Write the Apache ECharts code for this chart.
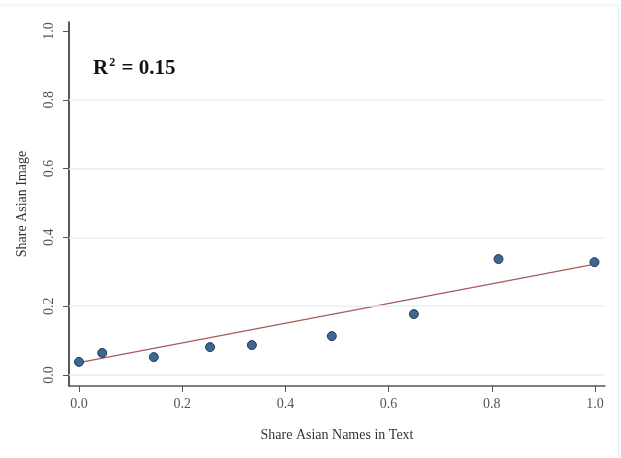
<!DOCTYPE html>
<html><head><meta charset="utf-8">
<script src="https://cdn.jsdelivr.net/npm/echarts@6/dist/echarts.min.js"></script>
<style>html,body{margin:0;padding:0;background:#fff}#c{width:621px;height:458px}</style>
</head><body><div id="c"></div>
<script>
const xVals = [0.0, 0.045, 0.145, 0.254, 0.335, 0.49, 0.649, 0.813, 0.999];
const yVals = [0.038, 0.064, 0.052, 0.081, 0.087, 0.113, 0.177, 0.337, 0.328];
const fitX = [0.0, 1.0];
const fitY = [0.036, 0.322];
const xTicks = [0, 0.2, 0.4, 0.6, 0.8, 1.0];
const yTicks = [0, 0.2, 0.4, 0.6, 0.8, 1.0];
const gridTicks = [0, 0.2, 0.4, 0.6, 0.8];
const xTitle = 'Share Asian Names in Text';
const yTitle = 'Share Asian Image';
const r2Label = '0.15';

const font = '"Liberation Serif", "DejaVu Serif", serif';
const chart = echarts.init(document.getElementById('c'), null, {renderer: 'canvas'});
chart.setOption({
  animation: false,
  backgroundColor: '#fff',
  grid: {left: 69, right: 16, top: 22, bottom: 72, containLabel: false},
  xAxis: {
    type: 'value', min: -0.0194, max: 1.0194,
    name: xTitle, nameLocation: 'middle', nameGap: 42,
    nameTextStyle: {fontFamily: font, fontSize: 14, color: '#333'},
    axisLine: {show: true, onZero: false, lineStyle: {color: '#555', width: 1.5}},
    axisTick: {show: true, length: 6, customValues: xTicks, lineStyle: {color: '#555'}},
    axisLabel: {customValues: xTicks, formatter: v => v.toFixed(1), fontFamily: font, fontSize: 14, color: '#555', margin: 11},
    splitLine: {show: false}
  },
  yAxis: {
    type: 'value', min: -0.032, max: 1.026,
    name: yTitle, nameLocation: 'middle', nameGap: 40, nameRotate: 90,
    nameTextStyle: {fontFamily: font, fontSize: 14, color: '#333'},
    axisLine: {show: true, onZero: false, lineStyle: {color: '#222', width: 1.5}},
    axisTick: {show: true, length: 6, customValues: yTicks, lineStyle: {color: '#555'}},
    axisLabel: {customValues: yTicks, formatter: v => v.toFixed(1), rotate: 90, fontFamily: font, fontSize: 14, color: '#555', margin: 13},
    splitLine: {show: false}
  },
  graphic: [
    {type: 'rect', shape: {x: -2, y: 5, width: 621, height: 460}, style: {fill: 'none', stroke: '#e8eeee', lineWidth: 1}, silent: true, z: -1},
    {type: 'text', left: 93, top: 57, style: {
      text: '{a|R}{s|2}{a| = ' + r2Label + '}',
      rich: {
        a: {fontFamily: font, fontSize: 21, fontWeight: 'bold', fill: '#111', verticalAlign: 'bottom'},
        s: {fontFamily: font, fontSize: 12, fontWeight: 'bold', fill: '#111', verticalAlign: 'top', padding: [0, 1, 10, 1]}
      }
    }}
  ],
  series: [
    {
      type: 'line', data: fitX.map((x, i) => [x, fitY[i]]), symbol: 'none',
      lineStyle: {color: '#a85a5a', width: 1.3}, z: 2,
      markLine: {
        silent: true, symbol: 'none', label: {show: false},
        lineStyle: {color: '#e9efef', width: 1.5, type: 'solid'},
        data: gridTicks.map(v => ({yAxis: v}))
      }
    },
    {
      type: 'scatter', data: xVals.map((x, i) => [x, yVals[i]]),
      symbol: 'circle', symbolSize: 9,
      itemStyle: {color: '#3f6690', borderColor: '#1d3d5f', borderWidth: 1, opacity: 1}, z: 3
    }
  ]
});
</script></body></html>
